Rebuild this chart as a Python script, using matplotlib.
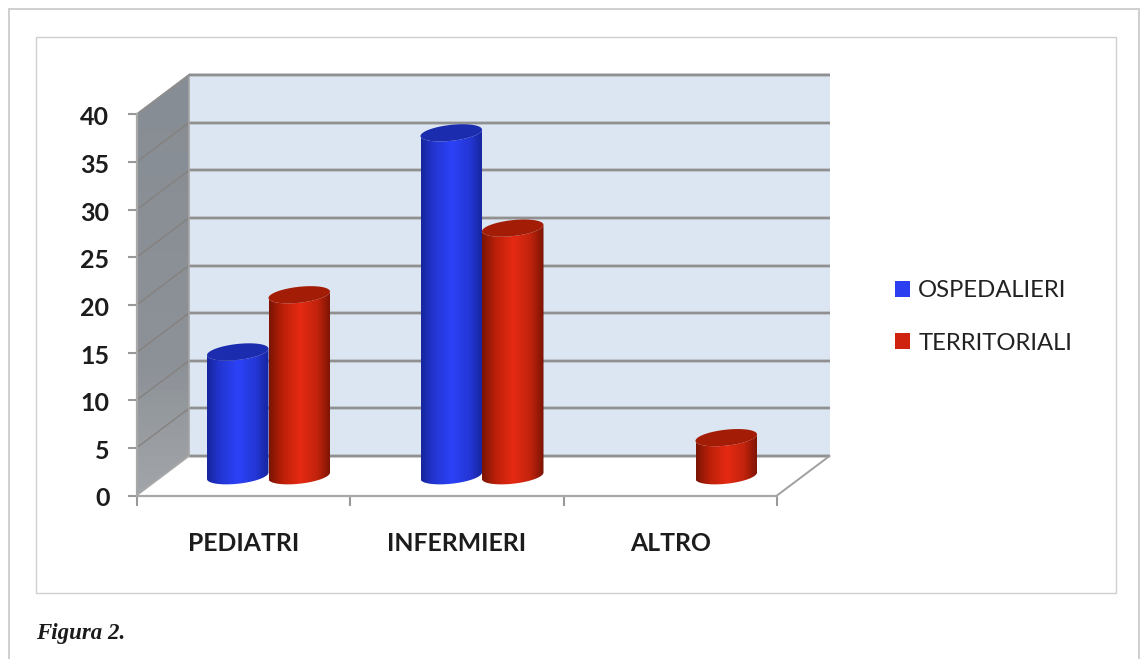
import numpy as np
import matplotlib
matplotlib.use("Agg")
import matplotlib.pyplot as plt
from matplotlib.patches import Polygon, PathPatch, Patch, Rectangle
from matplotlib.path import Path
from matplotlib.colors import LinearSegmentedColormap
from matplotlib.transforms import ScaledTranslation

categories = ["PEDIATRI", "INFERMIERI", "ALTRO"]
ospedalieri = [13, 36, None]
territoriali = [19, 26, 4]
series_names = ["OSPEDALIERI", "TERRITORIALI"]
y_ticks = [0, 5, 10, 15, 20, 25, 30, 35, 40]
caption = "Figura 2."

W, H = 1146, 659
PX_X = 213.5      # pixels per category
PX_Y = 9.525      # pixels per value unit
X0, Y0 = 136.5, 495.5   # pixel of data origin
DX, DY = 52.5 / PX_X, 39.5 / PX_Y   # full depth in data units
BAR_W = 61.5 / PX_X
A = BAR_W / 2
B = 8.0 / PX_Y
K = 3.2 / PX_Y
FONT = "Lato"

fig = plt.figure(figsize=(W / 100, H / 100), dpi=100, facecolor="white")
ax = fig.add_axes([0, 0, 1, 1], facecolor="none")
xlim = (-X0 / PX_X, (W - X0) / PX_X)
ylim = (-(H - Y0) / PX_Y, Y0 / PX_Y)

# page frames
for (x0, y0, x1, y1, c, lw) in [(8.5, 9.5, 1138.5, 680, "#cfcfcf", 1.4),
                                (36, 37, 1116, 593, "#d0d0d0", 1.0)]:
    fig.add_artist(Rectangle((x0 / W, 1 - y1 / H), (x1 - x0) / W, (y1 - y0) / H,
                             transform=fig.transFigure, fill=False, ec=c, lw=lw, zorder=0))

ymax = y_ticks[-1]
ncat = len(categories)

# back wall
ax.add_patch(Polygon([(DX, DY), (ncat + DX, DY), (ncat + DX, ymax + DY), (DX, ymax + DY)],
                     fc="#dbe6f2", ec="none", zorder=1))
# side wall with soft gradient
side = Polygon([(0, 0), (DX, DY), (DX, ymax + DY), (0, ymax)], fc="none", ec="none", zorder=1)
ax.add_patch(side)
cm_side = LinearSegmentedColormap.from_list("s", [(0, "#a2a5a9"), (0.3, "#8d9298"), (1, "#878d94")])
im = ax.imshow(np.linspace(0, 1, 64)[:, None], cmap=cm_side, origin="lower", aspect="auto",
               extent=(0, DX, 0, ymax + DY), zorder=1.1)
im.set_clip_path(side)

# gridlines
for v in y_ticks:
    ax.plot([DX, ncat + DX], [v + DY, v + DY], color="#b9bdc1", lw=2.6, zorder=1.9,
            solid_capstyle="butt")
    ax.plot([DX, ncat + DX], [v + DY, v + DY], color="#8c8c8c", lw=1.3, zorder=2,
            solid_capstyle="butt")
    if v > 0:
        ax.plot([0, DX], [v, v + DY], color="#85817e", lw=1.0, zorder=2)
ax.plot([DX, DX], [DY, ymax + DY], color="#a5a5a5", lw=1.2, zorder=2)
# outer edges of the box
ax.plot([0, DX], [0, DY], color="#a8a8a8", lw=1.2, zorder=2)
ax.plot([ncat, ncat + DX], [0, DY], color="#a0a0a0", lw=1.4, zorder=2)
ax.plot([0, DX], [ymax, ymax + DY], color="#8f8f8f", lw=1.4, zorder=2)


def cylinder(xc, base, value, stops, top):
    t = np.linspace(np.pi, 2 * np.pi, 60)
    yb = base
    yt = base + value
    low_x = xc + A * np.cos(t)
    low_y = yb + B * np.sin(t) + K * np.cos(t)
    up_x = low_x[::-1]
    up_y = yt + B * np.sin(t[::-1]) + K * np.cos(t[::-1])
    verts = np.vstack([np.c_[low_x, low_y], np.c_[up_x, up_y], [[low_x[0], low_y[0]]]])
    path = Path(verts, closed=False)
    p = PathPatch(path, fc="none", ec="none", transform=ax.transData, zorder=3)
    ax.add_patch(p)
    cm = LinearSegmentedColormap.from_list("c", stops)
    img = ax.imshow(np.linspace(0, 1, 128)[None, :], cmap=cm, aspect="auto", origin="lower",
                    extent=(xc - A, xc + A, yb - B - K, yt + B + K), zorder=3)
    img.set_clip_path(p)
    tt = np.linspace(0, 2 * np.pi, 120)
    ax.fill(xc + A * np.cos(tt), yt + B * np.sin(tt) + K * np.cos(tt), color=top, lw=0, zorder=3.1)


blue_stops = [(0, "#16259c"), (0.2, "#2335d0"), (0.5, "#2c42f8"), (0.8, "#2436d4"), (1, "#16259c")]
red_stops = [(0, "#7a1404"), (0.22, "#bb2009"), (0.5, "#e62a13"), (0.78, "#c2230c"), (1, "#7a1404")]

base_level = DY / 2
for i in range(ncat):
    centre = i + 0.5 + DX / 2 - 1.0 / PX_X
    if ospedalieri[i] is not None:
        cylinder(centre - A, base_level, ospedalieri[i], blue_stops, "#1c2cae")
    if territoriali[i] is not None:
        cylinder(centre + A, base_level, territoriali[i], red_stops, "#a31c06")

ax.set_xlim(xlim)
ax.set_ylim(ylim)

# axes
for s in ("top", "right"):
    ax.spines[s].set_visible(False)
for s in ("left", "bottom"):
    ax.spines[s].set_position(("data", 0))
    ax.spines[s].set_color("#a8a8a8")
    ax.spines[s].set_linewidth(1.6)
    ax.spines[s].set_zorder(2.5)
ax.spines["left"].set_bounds(0, ymax)
ax.spines["bottom"].set_bounds(0, ncat)
ax.set_yticks(y_ticks)
ax.set_yticklabels([str(v) for v in y_ticks], fontsize=18, fontweight="bold",
                   fontfamily=FONT, color="#1c1c1c")
ax.tick_params(axis="y", length=6.5, width=1.5, color="#999999", pad=13)
for lab in ax.get_yticklabels():
    lab.set_transform(lab.get_transform() + ScaledTranslation(0, -1.0 / 72, fig.dpi_scale_trans))
ax.set_xticks(range(ncat + 1))
ax.set_xticklabels([""] * (ncat + 1))
ax.tick_params(axis="x", which="major", length=7, width=1.5, color="#999999")
ax.set_xticks([i + 0.5 for i in range(ncat)], minor=True)
ax.set_xticklabels(categories, minor=True, fontsize=17.8, fontweight="bold",
                   fontfamily=FONT, color="#1c1c1c")
ax.tick_params(axis="x", which="minor", length=0, pad=26.5)

# legend
handles = [Patch(fc="#2b3ff0", ec="none"), Patch(fc="#d0230f", ec="none")]
ax.legend(handles, series_names, loc="center left",
          bbox_to_anchor=(895 / W, 1 - 317 / H), bbox_transform=fig.transFigure,
          frameon=False, ncol=1, handlelength=0.63, handleheight=0.63, handletextpad=0.34,
          labelspacing=1.3, borderpad=0, borderaxespad=0,
          prop={"family": FONT, "size": 17.2}, labelcolor="#222222")

fig.text(36 / W, 1 - 633.5 / H, caption, fontfamily="Liberation Serif", fontstyle="italic",
         fontweight="bold", fontsize=16.5, color="#1a1a1a", va="center", ha="left")

fig.savefig("out.png", dpi=100)
